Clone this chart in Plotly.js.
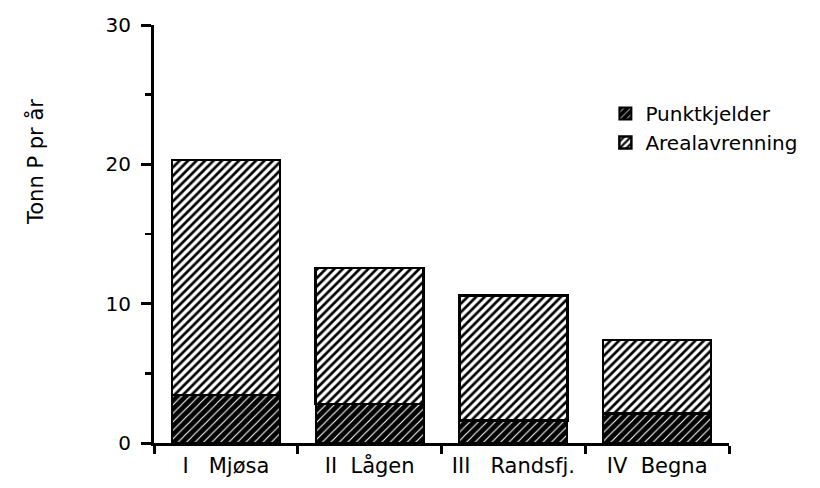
<!DOCTYPE html>
<html><head><meta charset="utf-8">
<script src="https://cdn.plot.ly/plotly-3.0.1.min.js"></script>
<style>html,body{margin:0;padding:0;background:#fff}#c{width:820px;height:488px}</style>
</head><body><div id="c"></div>
<script>
const categories = ["I\u00a0\u00a0\u00a0Mjøsa", "II\u00a0\u00a0Lågen", "III\u00a0\u00a0\u00a0Randsfj.", "IV\u00a0\u00a0Begna"];
const punktkjelder = [3.45, 2.8, 1.6, 2.1];
const arealavrenning = [16.85, 9.75, 9.0, 5.3];
const yTicks = [0, 10, 20, 30];
const seriesNames = ["Punktkjelder", "Arealavrenning"];
const yTitle = "Tonn P pr år";

const font = {family: "DejaVu Sans, Arial, sans-serif", color: "#000"};

const traces = [
  {type: "bar", x: categories, y: punktkjelder, name: seriesNames[0], width: 0.75,
   marker: {color: "#000", line: {color: "#000", width: 2},
            pattern: {shape: "/", bgcolor: "#000", fgcolor: "#fff", size: 6, solidity: 0.18, fillmode: "replace"}}},
  {type: "bar", x: categories, y: arealavrenning, name: seriesNames[1], width: 0.75,
   marker: {color: "#fff", line: {color: "#000", width: 2.5},
            pattern: {shape: "/", bgcolor: "#fff", fgcolor: "#000", size: 6, solidity: 0.45, fillmode: "replace"}}}
];

const layout = {
  width: 820, height: 488,
  margin: {l: 154, r: 91, t: 25, b: 45},
  paper_bgcolor: "#fff", plot_bgcolor: "#fff",
  barmode: "stack",
  showlegend: true,
  font: Object.assign({size: 20}, font),
  legend: {x: 0.785, y: 0.835, xanchor: "left", yanchor: "top", traceorder: "normal",
           font: Object.assign({size: 20}, font), bgcolor: "rgba(0,0,0,0)", itemwidth: 30, tracegroupgap: 0},
  xaxis: {type: "category", range: [-0.5, 3.5], showline: true, linecolor: "#000", linewidth: 3,
          ticks: "outside", tickson: "boundaries", ticklen: 8, tickwidth: 3, tickcolor: "#000",
          showgrid: false, zeroline: false, fixedrange: true, ticklabelstandoff: 2,
          tickfont: Object.assign({size: 21}, font)},
  yaxis: {range: [0, 30], tickvals: yTicks, showline: true, linecolor: "#000", linewidth: 3,
          ticks: "outside", ticklen: 10, tickwidth: 3, tickcolor: "#000", ticklabelstandoff: 6,
          minor: {dtick: 5, ticks: "outside", ticklen: 6, tickwidth: 2.5, tickcolor: "#000"},
          showgrid: false, zeroline: false, fixedrange: true,
          tickfont: Object.assign({size: 20}, font)},
  annotations: [{text: yTitle, xref: "paper", yref: "paper", x: (35 - 154) / 575, y: (443 - 162) / 418,
                 xanchor: "center", yanchor: "middle", textangle: -90, showarrow: false,
                 font: Object.assign({size: 21}, font)}]
};

Plotly.newPlot("c", traces, layout, {displayModeBar: false, staticPlot: true});
</script></body></html>
